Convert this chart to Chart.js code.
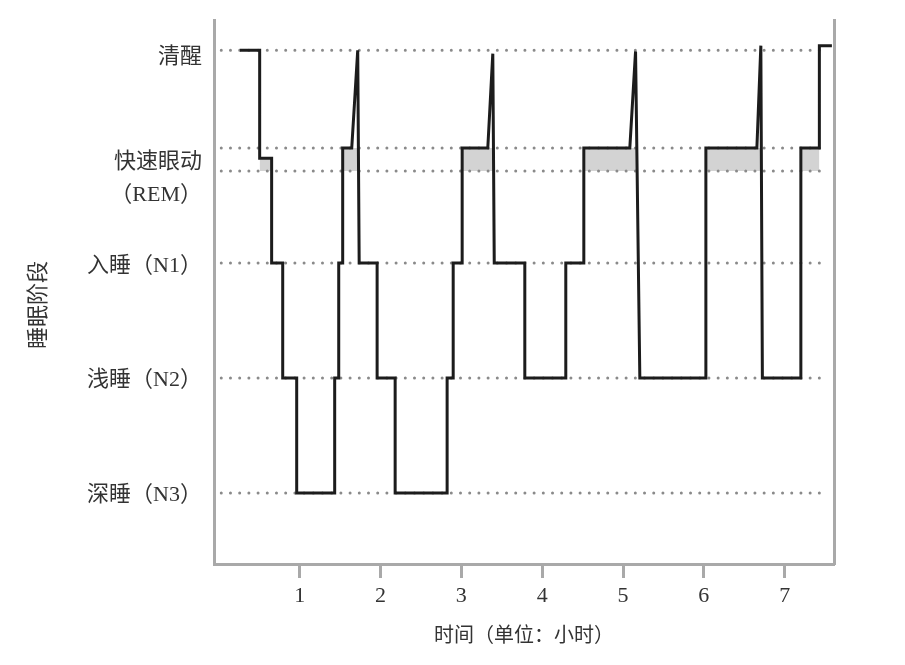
<!DOCTYPE html>
<html>
<head>
<meta charset="utf-8">
<script src="https://cdn.jsdelivr.net/npm/chart.js@4.4.1/dist/chart.umd.min.js"></script>
<style>
  html, body { margin: 0; padding: 0; background: #fff; }
  #wrap { width: 905px; height: 665px; position: relative; }
</style>
</head>
<body>
<div id="wrap"><canvas id="c"></canvas></div>
<script>
// ---- data (hours, stage level) ----
const hoursX = [0.26,0.505,0.505,0.653,0.653,0.79,0.79,0.963,0.963,1.433,1.433,1.483,1.483,1.532,1.532,1.644,1.718,1.736,1.958,1.958,2.181,2.181,2.824,2.824,2.899,2.899,3.010,3.010,3.327,3.389,3.407,3.785,3.785,4.292,4.292,4.515,4.515,5.084,5.155,5.208,6.025,6.025,6.656,6.705,6.724,7.200,7.200,7.429,7.429,7.584];
const stageY = [4.85,4.85,3.91,3.91,3,3,2,2,1,1,2,2,3,3,4,4,4.85,3,3,2,2,1,1,2,2,3,3,4,4,4.82,3,3,2,2,3,3,4,4,4.84,2,2,4,4,4.89,2,2,4,4,4.89,4.89];

// REM shaded intervals
const remStart = [0.505,1.532,3.010,4.515,6.025,7.200];
const remEnd   = [0.653,1.730,3.404,5.172,6.712,7.429];
const remTop   = [3.91,4,4,4,4,4];
const remBottom = 3.8;

// dotted reference levels
const levelValues = [1,2,3,3.8,4,4.85];
const levelXStart = 0.03;
const levelXEnd = 7.5;

// axis ticks / labels
const xTicks = [1,2,3,4,5,6,7];
const yTickValues = [0.985,1.985,2.975,3.73,4.79];
const yTickLabels = ['深睡（N3）','浅睡（N2）','入睡（N1）',['快速眼动','（REM）'],'清醒'];
const xTitle = '时间（单位：小时）';
const yTitle = '睡眠阶段';

// ---- build datasets ----
const datasets = [];
datasets.push({
  data: hoursX.map((x,i)=>({x:x, y:stageY[i]})),
  borderColor:'#1c1c1c', borderWidth:3, pointRadius:0, tension:0,
  borderJoinStyle:'miter', fill:false, order:0
});
levelValues.forEach(v=>{
  datasets.push({
    data:[{x:levelXStart,y:v},{x:levelXEnd,y:v}],
    borderColor:'#8a8a8a', borderWidth:3, borderDash:[0.001,9.2], borderCapStyle:'round',
    pointRadius:0, fill:false, order:1
  });
});
remStart.forEach((s,i)=>{
  datasets.push({
    data:[{x:s,y:remTop[i]},{x:remEnd[i],y:remTop[i]}],
    borderWidth:0, borderColor:'rgba(0,0,0,0)', backgroundColor:'#d3d3d3',
    pointRadius:0, fill:{value:remBottom}, order:2
  });
});

const serif = '"Liberation Serif", "Noto Sans CJK SC", serif';
const textColor = '#333333';
const axisGray = '#a9a9a9';

const yTitlePlugin = {
  id:'yTitlePlugin',
  afterDraw(chart){
    const ctx = chart.ctx;
    ctx.save();
    ctx.translate(37, 305);
    ctx.rotate(-Math.PI/2);
    ctx.font = '22px "Noto Sans CJK SC", sans-serif';
    ctx.fillStyle = textColor;
    ctx.textAlign = 'center';
    ctx.textBaseline = 'middle';
    ctx.fillText(yTitle, 0, 0);
    ctx.restore();
  }
};

new Chart(document.getElementById('c'), {
  type:'line',
  data:{ datasets: datasets },
  plugins:[yTitlePlugin],
  options:{
    responsive:true, maintainAspectRatio:false, animation:false,
    layout:{ padding:{ top:20, right:71, bottom:0, left:0 } },
    plugins:{ legend:{display:false}, tooltip:{enabled:false} },
    scales:{
      x:{
        type:'linear', min:-0.06, max:7.61,
        afterBuildTicks:(s)=>{ s.ticks = xTicks.map(v=>({value:v})); },
        afterFit:(s)=>{ s.height = 101; s.paddingLeft = 0; s.paddingRight = 0; },
        grid:{ display:true, drawOnChartArea:false, drawTicks:true, tickLength:14, tickColor:axisGray, tickWidth:3 },
        border:{ display:true, color:axisGray, width:3 },
        ticks:{ padding:5, color:textColor, font:{ family:serif, size:22 }, callback:(v)=>String(v), maxRotation:0 },
        title:{ display:true, text:xTitle, color:textColor, font:{ family:'"Noto Sans CJK SC", sans-serif', size:20, lineHeight:1.2 }, padding:{top:0,bottom:19} }
      },
      y:{
        type:'linear', min:0.383, max:5.113,
        afterBuildTicks:(s)=>{ s.ticks = yTickValues.map(v=>({value:v})); },
        afterFit:(s)=>{ s.width = 214; s.paddingTop = 0; s.paddingBottom = 0; },
        grid:{ display:false, drawTicks:false },
        border:{ display:true, color:axisGray, width:3 },
        ticks:{ padding:12, color:textColor, font:{ family:serif, size:22, lineHeight:1.5 },
          callback:(v,i)=>yTickLabels[i] }
      },
      y2:{
        type:'linear', position:'right', display:true, min:0.383, max:5.113,
        afterFit:(s)=>{ s.width = 0; s.paddingTop = 0; s.paddingBottom = 0; },
        grid:{ display:false, drawTicks:false },
        border:{ display:true, color:axisGray, width:3 },
        ticks:{ display:false }
      }
    }
  }
});
</script>
</body>
</html>
